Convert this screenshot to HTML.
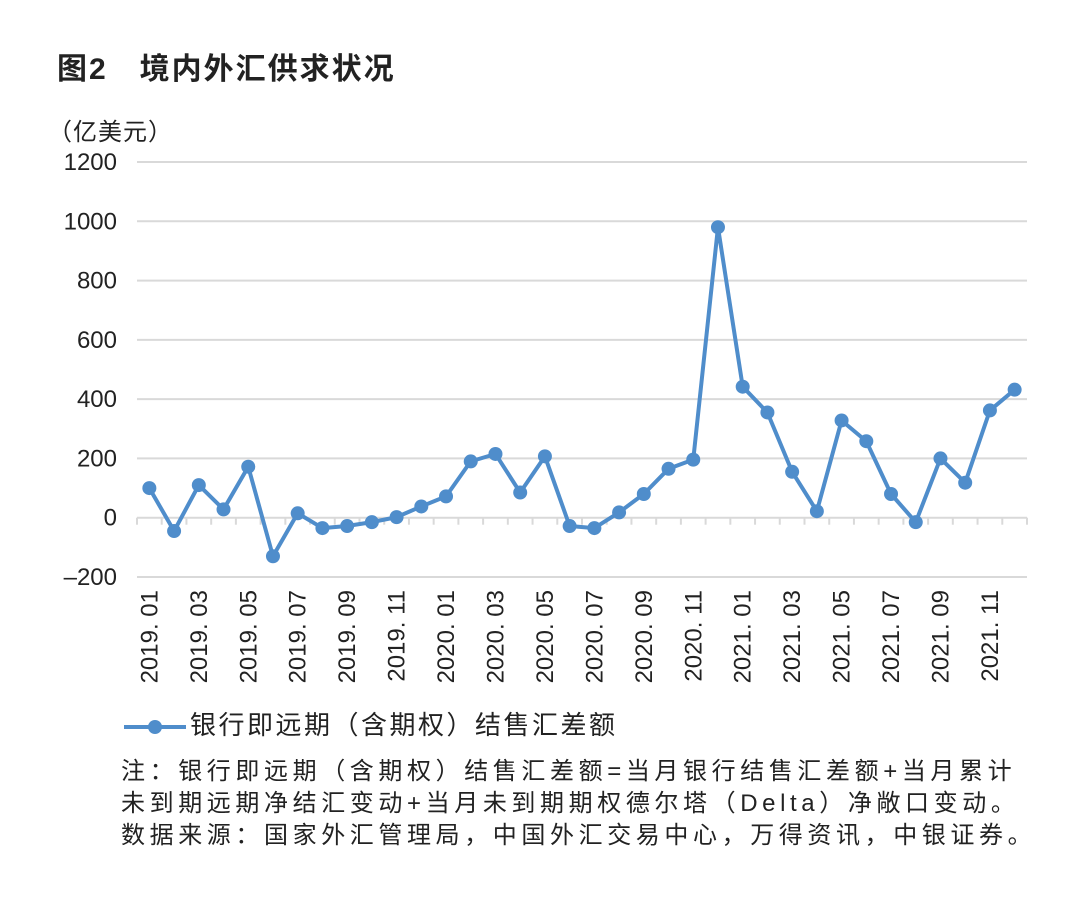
<!DOCTYPE html>
<html><head><meta charset="utf-8">
<style>
body{margin:0;background:#fff;width:1080px;height:904px;overflow:hidden;font-family:"Liberation Sans","Noto Sans CJK SC",sans-serif;color:#222}
.t{position:absolute;white-space:nowrap}
</style></head><body>
<div class="t" style="left:57px;top:44px;font-size:30px;font-weight:bold;letter-spacing:2px;">图2　境内外汇供求状况</div>
<div class="t" style="left:48px;top:112px;font-size:24px;letter-spacing:1px;">（亿美元）</div>
<svg id="chart" width="1080" height="700" style="position:absolute;left:0;top:0"></svg>
<div class="t" style="left:124px;top:705px;font-size:26px;letter-spacing:2.5px;">
<svg width="64" height="20" style="vertical-align:middle;margin-right:2px"><line x1="0" y1="10" x2="62" y2="10" stroke="#4f8dcb" stroke-width="4"/><circle cx="31" cy="10" r="7" fill="#4f8dcb"/></svg>银行即远期（含期权）结售汇差额</div>
<div class="t" style="left:121px;top:756px;font-size:24px;line-height:32px;letter-spacing:4.6px;">注：银行即远期（含期权）结售汇差额=当月银行结售汇差额+当月累计<br>未到期远期净结汇变动+当月未到期期权德尔塔（Delta）净敞口变动。<br>数据来源：国家外汇管理局，中国外汇交易中心，万得资讯，中银证券。</div>
<script>
const categories=["2019.01","2019.02","2019.03","2019.04","2019.05","2019.06","2019.07","2019.08","2019.09","2019.10","2019.11","2019.12","2020.01","2020.02","2020.03","2020.04","2020.05","2020.06","2020.07","2020.08","2020.09","2020.10","2020.11","2020.12","2021.01","2021.02","2021.03","2021.04","2021.05","2021.06","2021.07","2021.08","2021.09","2021.10","2021.11","2021.12"];
const values=[100,-45,110,28,172,-130,15,-35,-28,-15,2,38,72,190,215,85,207,-28,-35,18,80,165,196,980,442,355,155,22,328,258,80,-15,200,118,362,432];
const yTicks=[-200,0,200,400,600,800,1000,1200];
const NS="http://www.w3.org/2000/svg";
const svg=document.getElementById('chart');
const x0=137,x1=1027,y0v=-200,y1v=1200,yb=577,yt=162;
const step=(x1-x0)/categories.length;
const X=i=>x0+step*(i+0.5);
const Y=v=>yb-(v-y0v)/(y1v-y0v)*(yb-yt);
function mk(tag,attrs){const e=document.createElementNS(NS,tag);for(const k in attrs)e.setAttribute(k,attrs[k]);svg.appendChild(e);return e;}
yTicks.forEach(v=>{
 const g=mk('line',{x1:x0,x2:x1,y1:Y(v),y2:Y(v),stroke:'#d9d9d9','stroke-width':2});
 
 
 const t=mk('text',{x:117,y:Y(v)+8,'text-anchor':'end','font-size':24,fill:'#222','font-family':'Liberation Sans, sans-serif'});
 t.textContent=v<0?'–'+Math.abs(v):v;
 
 
});
for(let i=0;i<=categories.length;i++){
 const tk=mk('line',{x1:x0+step*i,x2:x0+step*i,y1:Y(0),y2:Y(0)+7,stroke:'#d9d9d9','stroke-width':2});
 
 
}
categories.forEach((c,i)=>{
 if(i%2)return;
 const t=mk('text',{x:0,y:0,'text-anchor':'end','font-size':24,fill:'#222','font-family':'Liberation Sans, sans-serif',transform:`translate(${X(i)+8},590) rotate(-90)`});
 t.textContent=c.replace('.','. ');
 
 
});
const p=mk('polyline',{points:values.map((v,i)=>X(i)+','+Y(v)).join(' '),fill:'none',stroke:'#4f8dcb','stroke-width':4,'stroke-linejoin':'round'});


values.forEach((v,i)=>{
 const c=mk('circle',{cx:X(i),cy:Y(v),r:7,fill:'#4f8dcb'});
 
 
});
</script>
</body></html>
